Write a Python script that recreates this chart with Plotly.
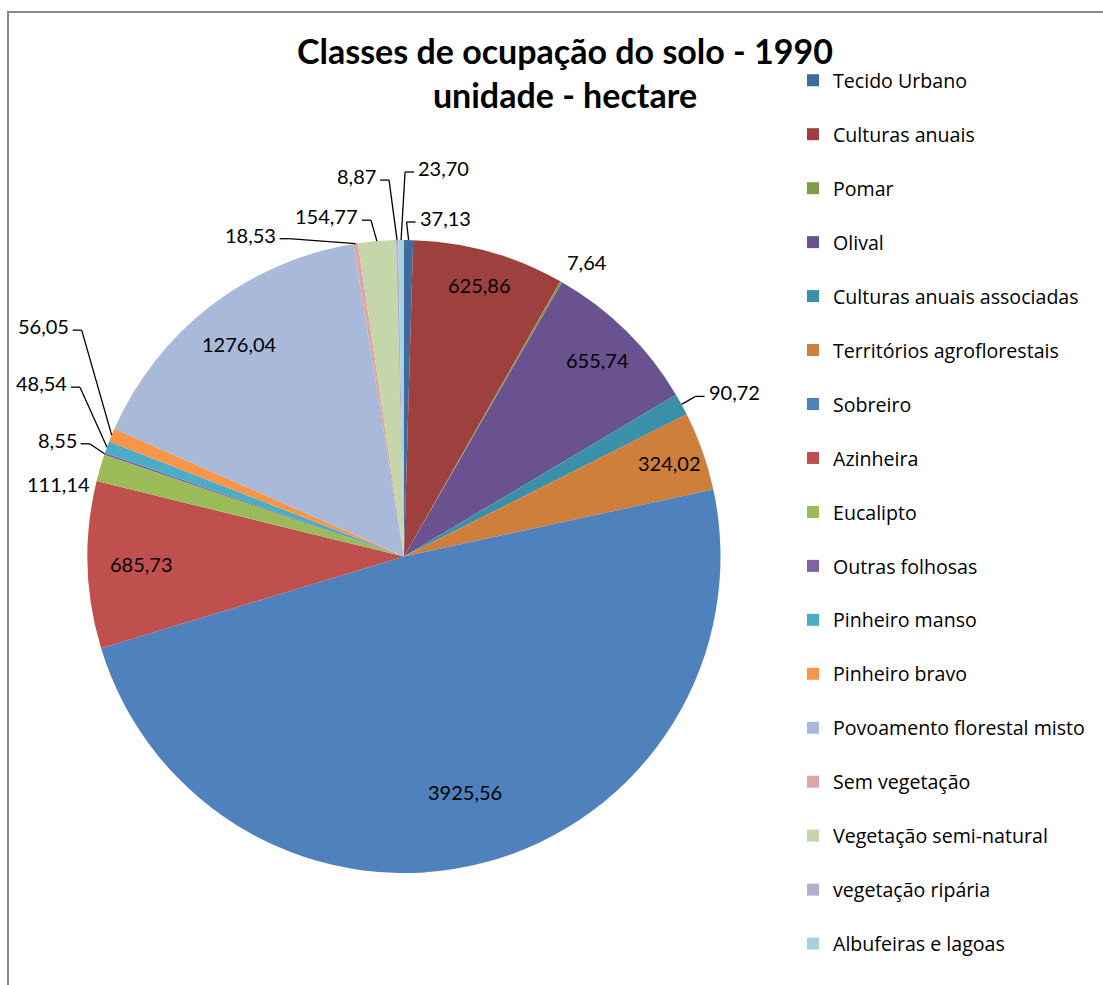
import math
import plotly.graph_objects as go

# data
categories = [
    "Tecido Urbano", "Culturas anuais", "Pomar", "Olival",
    "Culturas anuais associadas", "Territórios agroflorestais", "Sobreiro",
    "Azinheira", "Eucalipto", "Outras folhosas", "Pinheiro manso",
    "Pinheiro bravo", "Povoamento florestal misto", "Sem vegetação",
    "Vegetação semi-natural", "vegetação ripária", "Albufeiras e lagoas",
]
hectares = [
    37.13, 625.86, 7.64, 655.74, 90.72, 324.02, 3925.56, 685.73, 111.14,
    8.55, 48.54, 56.05, 1276.04, 18.53, 154.77, 8.87, 23.70,
]
colors = [
    "#3E6A9E", "#9E413E", "#7F9B48", "#6A5290", "#3A90A8", "#CE7F3B",
    "#4F81BD", "#C0504D", "#9BBB59", "#8064A2", "#4BACC6", "#F79646",
    "#A9B9D9", "#DBA6A4", "#C6D6AB", "#B8ADCB", "#A6D1DF",
]
title_lines = ["Classes de ocupação do solo - 1990", "unidade - hectare"]

# label placement (style only)
# inside labels: fraction of the radius along the slice's mid angle
inside = {
    "Culturas anuais": 0.89,
    "Olival": 0.87,
    "Territórios agroflorestais": 0.89,
    "Sobreiro": 0.77,
    "Azinheira": 0.83,
    "Povoamento florestal misto": 0.85,
}
# outside labels: (dx, dy) px from slice edge to label, leader line or not
outside = {
    "Tecido Urbano": (7, -18, True),
    "Pomar": (4, -20, False),
    "Culturas anuais associadas": (23, -8, True),
    "Eucalipto": (-8, 16, False),
    "Outras folhosas": (-24, -10, True),
    "Pinheiro manso": (-36, -60, True),
    "Pinheiro bravo": (-39, -105, True),
    "Sem vegetação": (-76, -5, True),
    "Vegetação semi-natural": (-15, -21, True),
    "vegetação ripária": (-17, -60, True),
    "Albufeiras e lagoas": (13, -68, True),
}

W, H = 1103, 985
ML, MR, MT, MB = 87, 382, 240, 112
PW, PH = W - ML - MR, H - MT - MB
CX, CY = ML + PW / 2, MT + PH / 2
RAD = min(PW, PH) / 2
FONT = "Lato, 'Open Sans', sans-serif"
LEGEND_FONT = "'Open Sans', Lato, sans-serif"


def px_to_paper(x, y):
    return (x - ML) / PW, (MT + PH - y) / PH


def fmt(v):
    return f"{v:.2f}".replace(".", ",")


# spare line under each legend entry gives the wide Excel-like row spacing
legend_names = [c + "<br> " for c in categories[:-1]] + [categories[-1]]

fig = go.Figure(go.Pie(
    labels=legend_names,
    values=hectares,
    sort=False,
    direction="clockwise",
    rotation=0,
    marker=dict(colors=colors, line=dict(width=0)),
    textinfo="none",
    hoverinfo="label+value",
))

total = sum(hectares)
cum = 0
annotations = []
shapes = []
label_font = dict(family=FONT, size=20, color="black")
for cat, val in zip(categories, hectares):
    mid = (cum + val / 2) / total * 2 * math.pi
    cum += val
    s, c = math.sin(mid), math.cos(mid)
    if cat in inside:
        rho = RAD * inside[cat]
        x, y = px_to_paper(CX + rho * s, CY - rho * c)
        annotations.append(dict(text=fmt(val), x=x, y=y, xref="paper",
                                yref="paper", showarrow=False,
                                xanchor="center", yanchor="middle",
                                font=label_font))
        continue
    dx, dy, leader = outside[cat]
    ex, ey = CX + RAD * s, CY - RAD * c
    kx, ky = ex + dx, ey + dy
    side = 1 if dx >= 0 else -1
    if leader:
        bx = kx - side * 9
        for (x0, y0), (x1, y1) in [((ex, ey), (bx, ky)), ((bx, ky), (kx, ky))]:
            p0, p1 = px_to_paper(x0, y0), px_to_paper(x1, y1)
            shapes.append(dict(type="line", xref="paper", yref="paper",
                               x0=p0[0], y0=p0[1], x1=p1[0], y1=p1[1],
                               line=dict(color="black", width=1.3)))
        ax, ay = px_to_paper(kx + side * 2, ky - 4)
    else:
        ax, ay = px_to_paper(kx, ky)
    annotations.append(dict(
        text=fmt(val), x=ax, y=ay, xref="paper", yref="paper",
        showarrow=False, xanchor="left" if side > 0 else "right",
        yanchor="middle", font=label_font,
    ))

tx, ty = px_to_paper(565, 28)
annotations.append(dict(
    text="<b>" + "<br>".join(title_lines) + "</b>",
    x=tx, y=ty, xref="paper", yref="paper", showarrow=False,
    xanchor="center", yanchor="top",
    font=dict(family=FONT, size=34, color="black"),
))

# chart border
b0, b1 = px_to_paper(8, 12), px_to_paper(W + 20, H + 20)
shapes.append(dict(type="rect", xref="paper", yref="paper",
                   x0=b0[0], y0=b1[1], x1=b1[0], y1=b0[1],
                   line=dict(color="#888888", width=2)))

lx, ly = px_to_paper(793, 61)
fig.update_layout(
    width=W, height=H,
    margin=dict(l=ML, r=MR, t=MT, b=MB),
    paper_bgcolor="white",
    showlegend=True,
    legend=dict(x=lx, y=ly, xanchor="left", yanchor="top", valign="top",
                font=dict(family=LEGEND_FONT, size=19.6, color="black"),
                bgcolor="rgba(0,0,0,0)", maxheight=1),
    annotations=annotations,
    shapes=shapes,
)

fig.write_html("out.html", config={"displayModeBar": False},
               post_script="document.body.style.margin = '0';")
